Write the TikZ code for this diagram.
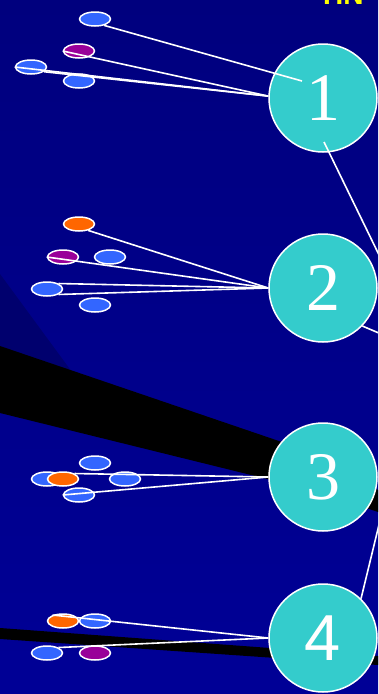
\documentclass[tikz,border=0pt]{standalone}
\usepackage{fontspec}
\setmainfont{Liberation Serif}
\newfontfamily\labelsans{Liberation Sans}
\usepackage{tikz}
\usetikzlibrary{shapes}
\usetikzlibrary{positioning}
\definecolor{slide_top}{RGB}{0,0,126}
\definecolor{slide_bottom}{RGB}{0,0,150}
\definecolor{slide_shade}{RGB}{0,0,110}
\definecolor{stage_teal}{RGB}{52,204,204}
\definecolor{dot_blue}{RGB}{51,102,255}
\definecolor{dot_purple}{RGB}{153,0,153}
\definecolor{dot_orange}{RGB}{255,102,0}
\definecolor{title_yellow}{RGB}{255,255,0}

\begin{document}
\begin{tikzpicture}[x=1pt, y=-1pt,
    stage/.style={circle, draw=white, line width=1.5pt, fill=stage_teal, minimum size=108pt, inner sep=0pt, text=white, font=\fontsize{68}{68}\selectfont},
    item/.style={ellipse, draw=white, line width=1.5pt, minimum width=31pt, minimum height=14pt, inner sep=0pt},
    item_blue/.style={item, fill=dot_blue},
    item_purple/.style={item, fill=dot_purple},
    item_orange/.style={item, fill=dot_orange},
    link/.style={draw=white, line width=1.6pt}]
    \useasboundingbox (0,0) rectangle (378,694);
    \clip (0,0) rectangle (378,694);
    % background and bands
    \fill[top color=slide_top, bottom color=slide_bottom] (0,0) rectangle (378,694);
    \fill[slide_shade] (0,274) -- (72,372) -- (0,372) -- cycle;
    \fill[black] (0,346) -- (320,455) -- (378,490) -- (378,512) -- (320,492) -- (0,413) -- cycle;
    \fill[black] (0,628) -- (378,656) -- (378,665) -- (0,639) -- cycle;
    \node[text=title_yellow, font=\labelsans\bfseries\fontsize{28}{28}\selectfont, anchor=base west, inner sep=0pt] (heading) at (323,4) {HN};

    % stages
    \node[stage] (circle_one) at (323,98) {1};
    \node[stage] (circle_two) at (323,288) {2};
    \node[stage] (circle_three) at (323,477) {3};
    \node[stage, font=\labelsans\fontsize{65}{65}\selectfont] (circle_four) at (323,638) {4};

    % items
    \node[item_blue] (one_a) at (95,19) {};
    \node[item_purple] (one_b) at (79,51) {};
    \node[item_blue] (one_c) at (31,67) {};
    \node[item_blue] (one_d) at (79,81) {};
    \node[item_orange] (two_e) at (79,224) {};
    \node[item_purple] (two_f) at (63,257) {};
    \node[item_blue] (two_g) at (110,257) {};
    \node[item_blue] (two_h) at (47,289) {};
    \node[item_blue] (two_i) at (95,305) {};
    \node[item_blue] (three_j) at (95,463) {};
    \node[item_blue] (three_k) at (47,479) {};
    \node[item_orange] (three_l) at (63,479) {};
    \node[item_blue] (three_m) at (125,479) {};
    \node[item_blue] (three_n) at (79,495) {};
    \node[item_orange] (four_o) at (63,621) {};
    \node[item_blue] (four_p) at (95,621) {};
    \node[item_blue] (four_q) at (47,653) {};
    \node[item_purple] (four_r) at (95,653) {};

    \coordinate (one_inner) at (302,81);
    \coordinate (one_tail) at (324,142);
    \coordinate (off_one) at (400,298);
    \coordinate (off_two) at (400,342);
    \coordinate (off_four) at (385,500);

    % links
    \draw[link] (one_a.-35) -- (one_inner);
    \draw[link] (one_b.west) -- (circle_one.178);
    \draw[link] (one_c.west) -- (circle_one.178);
    \draw[link] (one_c.-20) -- (circle_one.178);
    \draw[link] (one_tail) -- (off_one);
    \draw[link] (two_e.-35) -- (circle_two.west);
    \draw[link] (two_f.west) -- (circle_two.west);
    \draw[link] (two_h.north east) -- (circle_two.west);
    \draw[link] (two_h.south east) -- (circle_two.west);
    \draw[link] (circle_two.-44) -- (off_two);
    \draw[link] (three_l.north east) -- (circle_three.west);
    \draw[link] (three_n.west) -- (circle_three.west);
    \draw[link] (four_o.150) -- (circle_four.west);
    \draw[link] (four_q.north east) -- (circle_four.west);
    \draw[link] (circle_four.46) -- (off_four);
\end{tikzpicture}
\end{document}
